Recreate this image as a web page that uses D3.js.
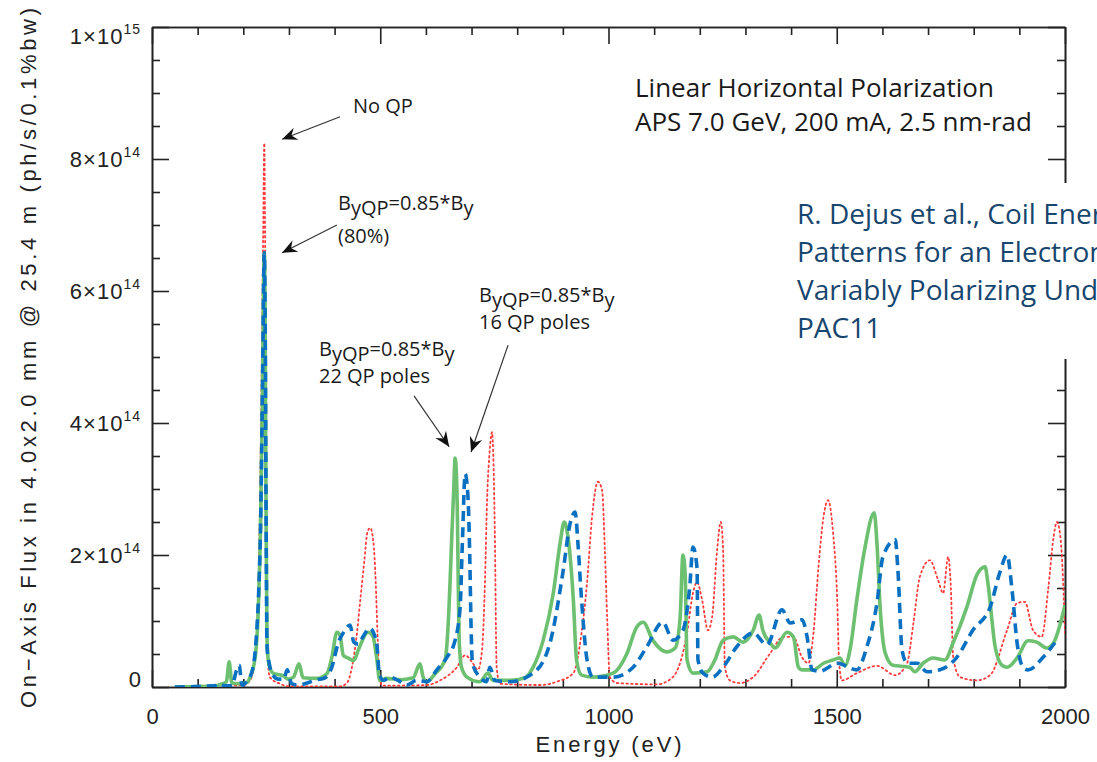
<!DOCTYPE html>
<html>
<head>
<meta charset="utf-8">
<script src="https://cdn.jsdelivr.net/npm/d3@7"></script>
<style>
  html, body { margin: 0; padding: 0; background: #fff; }
  svg { display: block; }
  .ax text { font-family: "Liberation Sans", Arial, sans-serif; fill: #222; }
  .note { font-family: "Open Sans", sans-serif; fill: #1a1a1a; }
</style>
</head>
<body>
<svg width="1097" height="762"></svg>
<script>
// flux values are in units of 1e14 ph/s/0.1%bw
const noQpE = [160, 200, 215, 226, 233, 238, 243, 246, 248, 250, 253, 258, 280, 302, 412, 427, 438, 449, 456, 465, 472, 478, 485, 490, 494, 498, 505,
  602, 631, 668, 686, 701, 714, 723, 729, 734, 740, 745, 748, 751, 755, 762, 850, 887, 923, 941, 953, 964, 977, 986, 992, 997, 1003, 1019,
  1106, 1141, 1172, 1185, 1194, 1205, 1218, 1227, 1238, 1246, 1251, 1255, 1266, 1288, 1317, 1354, 1383, 1405, 1424, 1438, 1449, 1460, 1471,
  1481, 1492, 1501, 1505, 1511, 1544, 1588, 1628, 1654, 1668, 1682, 1704, 1722, 1733, 1744, 1750, 1755, 1770, 1807, 1836, 1873, 1895, 1912,
  1930, 1949, 1963, 1975, 1982, 1989, 1996, 2000];
const noQpF = [0.02, 0.03, 0.1, 0.5, 1.5, 3.5, 6.5, 8.24, 6.5, 3.0, 0.5, 0.15, 0.05, 0.01, 0.01, 0.06, 0.3, 0.82, 1.3, 1.9, 2.35, 2.41, 2.2, 1.6, 0.8, 0.15, 0.02,
  0.03, 0.1, 0.3, 0.48, 0.38, 0.26, 0.56, 1.5, 2.83, 3.6, 3.86, 3.4, 2.33, 0.3, 0.05, 0.03, 0.08, 0.21, 0.82, 1.58, 2.58, 3.11, 2.98, 2.08, 1.06, 0.15, 0.06,
  0.04, 0.15, 0.82, 1.42, 1.59, 1.32, 0.86, 1.06, 2.08, 2.5, 2.08, 0.3, 0.1, 0.06, 0.15, 0.51, 0.76, 0.76, 0.45, 0.36, 0.82, 1.82, 2.58,
  2.83, 2.33, 1.32, 0.4, 0.1, 0.21, 0.32, 0.18, 0.36, 0.97, 1.67, 1.92, 1.62, 1.42, 1.97, 1.5, 0.45, 0.15, 0.1, 0.18, 0.86, 1.27, 1.29,
  0.86, 0.76, 1.47, 2.27, 2.5, 2.33, 1.58, 0.82];

const qp16E = [50, 138, 145, 160, 175, 185, 191, 197, 208, 219, 228, 234, 238, 242, 246, 248, 250, 252, 257, 263, 276, 289, 296, 306, 320,
  361, 379, 394, 408, 419, 434, 442, 452, 462, 477, 492, 498, 507, 521, 539, 558, 580, 602, 624, 646, 664, 675, 680, 686, 692, 696, 699, 702,
  718, 733, 740, 751, 784, 835, 872, 900, 916, 927, 933, 941, 953, 966, 1010, 1054, 1084, 1119, 1141, 1163, 1178, 1185, 1194, 1196, 1207,
  1227, 1251, 1281, 1317, 1347, 1380, 1398, 1424, 1435, 1446, 1463, 1501, 1544, 1566, 1588, 1601, 1628, 1634, 1643, 1654, 1676, 1698,
  1726, 1763, 1798, 1836, 1857, 1873, 1884, 1895, 1908, 1919, 1952, 1978];
const qp16F = [0, 0.02, 0.05, 0.02, 0.02, 0.25, 0.33, 0.03, 0.09, 0.23, 0.71, 1.5, 2.5, 4.5, 6.58, 5.4, 2.5, 0.6, 0.35, 0.2, 0.12, 0.12, 0.26, 0.05, 0.03,
  0.11, 0.14, 0.3, 0.67, 0.82, 0.94, 0.68, 0.65, 0.76, 0.89, 0.67, 0.2, 0.1, 0.15, 0.1, 0.03, 0.1, 0.08, 0.26, 0.45, 0.71, 1.21, 2.2, 3.23, 2.9, 2.0, 0.9, 0.36,
  0.15, 0.08, 0.3, 0.1, 0.08, 0.21, 0.67, 1.73, 2.48, 2.65, 2.18, 1.32, 0.41, 0.15, 0.15, 0.3, 0.61, 0.98, 0.71, 0.86, 1.52, 2.12, 1.8, 0.41, 0.21,
  0.15, 0.3, 0.61, 0.82, 0.64, 1.17, 0.97, 1.02, 0.76, 0.26, 0.24, 0.36, 0.26, 0.61, 1.27, 1.97, 2.23, 1.77, 0.56, 0.36, 0.36, 0.23,
  0.26, 0.45, 0.86, 1.21, 1.73, 2.0, 1.47, 0.67, 0.3, 0.26, 0.45, 0.67];

const qp22E = [50, 140, 150, 163, 169, 175, 190, 208, 215, 226, 233, 238, 242, 246, 248, 250, 252, 256, 265, 287, 298, 310, 322, 331, 361,
  383, 394, 405, 412, 419, 429, 442, 452, 473, 484, 492, 499, 514, 543, 572, 587, 594, 602, 620, 642, 648, 653, 657, 661, 664, 667, 669, 671,
  673, 678, 690, 718, 736, 747, 784, 817, 835, 857, 879, 894, 903, 912, 923, 930, 941, 966, 1010, 1040, 1062, 1076, 1097, 1128, 1146, 1157,
  1163, 1168, 1172, 1185, 1216, 1233, 1251, 1273, 1295, 1317, 1330, 1338, 1354, 1365, 1391, 1405, 1416, 1424, 1449, 1471, 1492, 1507, 1518,
  1529, 1544, 1562, 1582, 1588, 1595, 1606, 1623, 1660, 1671, 1689, 1711, 1737, 1755, 1785, 1807, 1825, 1831, 1847, 1862, 1873, 1895, 1919,
  1938, 1960, 1975, 2000];
const qp22F = [0, 0.02, 0.04, 0.08, 0.38, 0.06, 0.05, 0.07, 0.15, 0.45, 1.2, 2.5, 4.5, 6.58, 5.4, 2.5, 0.7, 0.35, 0.21, 0.17, 0.12, 0.15, 0.35, 0.14, 0.13,
  0.2, 0.45, 0.83, 0.78, 0.48, 0.44, 0.4, 0.56, 0.83, 0.77, 0.45, 0.1, 0.13, 0.11, 0.14, 0.35, 0.15, 0.08, 0.2, 0.41, 0.85, 1.6, 2.33, 3.0, 3.47, 3.2, 2.6, 1.5,
  0.7, 0.3, 0.15, 0.08, 0.21, 0.1, 0.1, 0.14, 0.3, 0.71, 1.42, 2.18, 2.5, 2.23, 1.32, 0.41, 0.18, 0.15, 0.21, 0.5, 0.91, 0.98, 0.71, 0.53, 0.59, 1.06,
  2.0, 1.7, 0.41, 0.21, 0.23, 0.41, 0.71, 0.76, 0.68, 0.86, 1.09, 0.86, 0.67, 0.59, 0.83, 0.76, 0.3, 0.26, 0.26, 0.36, 0.41, 0.44, 0.32,
  0.56, 1.32, 2.12, 2.64, 2.18, 1.21, 0.52, 0.33, 0.3, 0.23, 0.36, 0.44, 0.41, 0.67, 1.21, 1.7, 1.82, 1.58, 0.61, 0.33, 0.3, 0.44, 0.7,
  0.68, 0.59, 0.67, 1.24];

const xTicks = [0, 500, 1000, 1500, 2000];
const yTicks = [0, 2, 4, 6, 8, 10];
const yTickMant = ["0", "2", "4", "6", "8", "1"];
const yTickExp = ["", "14", "14", "14", "14", "15"];

const svg = d3.select("svg");
const L = 152, R = 1065, T = 27, B = 687;
const x = d3.scaleLinear().domain([0, 2000]).range([L, R]);
const y = d3.scaleLinear().domain([0, 10]).range([B, T]);

const xMinor = d3.range(0, 2001, 100).filter(v => v % 500 !== 0);
const yMinor = d3.range(0, 10.01, 0.5).filter(v => v % 2 !== 0);

// axes: ticks point into the plot
function drawAxes() {
  const g = svg.append("g").attr("class", "ax");
  const axB = g.append("g").attr("transform", `translate(0,${B})`)
    .call(d3.axisBottom(x).tickValues(xTicks).tickSize(-17).tickSizeOuter(0).tickPadding(21).tickFormat(d => d));
  g.append("g").attr("transform", `translate(0,${B})`)
    .call(d3.axisBottom(x).tickValues(xMinor).tickSize(-8).tickSizeOuter(0).tickFormat(""));
  g.append("g").attr("transform", `translate(0,${T})`)
    .call(d3.axisTop(x).tickValues(xTicks).tickSize(-17).tickSizeOuter(0).tickFormat(""));
  g.append("g").attr("transform", `translate(0,${T})`)
    .call(d3.axisTop(x).tickValues(xMinor).tickSize(-8).tickSizeOuter(0).tickFormat(""));
  g.append("g").attr("transform", `translate(${L},0)`)
    .call(d3.axisLeft(y).tickValues(yTicks).tickSize(-17).tickSizeOuter(0).tickFormat(""));
  g.append("g").attr("transform", `translate(${L},0)`)
    .call(d3.axisLeft(y).tickValues(yMinor).tickSize(-8).tickSizeOuter(0).tickFormat(""));
  g.append("g").attr("transform", `translate(${R},0)`)
    .call(d3.axisRight(y).tickValues(yTicks).tickSize(-17).tickSizeOuter(0).tickFormat(""));
  g.append("g").attr("transform", `translate(${R},0)`)
    .call(d3.axisRight(y).tickValues(yMinor).tickSize(-8).tickSizeOuter(0).tickFormat(""));
  g.selectAll("path.domain, line").attr("stroke", "#222").attr("stroke-width", 1.6);
  axB.selectAll("text").attr("font-size", 22);

  // y tick labels with exponents
  const lab = g.append("g").attr("font-size", 22).attr("text-anchor", "end");
  yTicks.forEach((v, i) => {
    let by = y(v) + 8;
    if (i === 0) by = y(v);
    if (i === yTicks.length - 1) by = y(v) + 17;
    const t = lab.append("text").attr("x", 141).attr("y", by).attr("letter-spacing", 1);
    if (yTickExp[i]) {
      t.append("tspan").text(yTickMant[i] + "\u00d710");
      t.append("tspan").attr("font-size", 14).attr("dy", -10).text(yTickExp[i]);
    } else {
      t.attr("x", 142).text(yTickMant[i]);
    }
  });

  g.append("text").attr("x", x(1000)).attr("y", 752).attr("text-anchor", "middle")
    .attr("font-size", 22).attr("textLength", 146).attr("lengthAdjust", "spacing")
    .text("Energy (eV)");
  g.append("text").attr("transform", `translate(36,${(T + B) / 2 + 1}) rotate(-90)`)
    .attr("text-anchor", "middle").attr("font-size", 22)
    .attr("textLength", 700).attr("lengthAdjust", "spacing")
    .text("On\u2212Axis Flux in 4.0x2.0 mm @ 25.4 m (ph/s/0.1%bw)");
}
drawAxes();

svg.append("clipPath").attr("id", "plot")
  .append("rect").attr("x", L).attr("y", T - 2).attr("width", R - L).attr("height", B - T + 2);

const line = d3.line().x(d => x(d[0])).y(d => y(d[1])).curve(d3.curveMonotoneX);
const curves = svg.append("g").attr("clip-path", "url(#plot)").attr("fill", "none");

curves.append("path").datum(d3.zip(noQpE, noQpF)).attr("d", line)
  .attr("stroke", "#ff3b3b").attr("stroke-width", 1.8)
  .attr("stroke-dasharray", "1.6,3.2").attr("stroke-linecap", "round");
curves.append("path").datum(d3.zip(qp22E, qp22F)).attr("d", line)
  .attr("stroke", "#6cc070").attr("stroke-width", 3.6).attr("stroke-linejoin", "round");
curves.append("path").datum(d3.zip(qp16E, qp16F)).attr("d", line)
  .attr("stroke", "#0a70c2").attr("stroke-width", 3.6)
  .attr("stroke-dasharray", "10,6");

// white box behind the citation text (it runs off the right edge, as in the source slide)
svg.append("rect").attr("x", 790).attr("y", 183).attr("width", 307).attr("height", 176).attr("fill", "#fff");

const cite = ["R. Dejus et al., Coil Ener", "Patterns for an Electron", "Variably Polarizing Und", "PAC11"];
svg.append("g").selectAll("text").data(cite).join("text")
  .attr("x", 797).attr("y", (d, i) => 224 + i * 38)
  .attr("font-family", "'Open Sans', sans-serif").attr("font-size", 28).attr("fill", "#17466f")
  .text(d => d);

// annotations
svg.append("defs").append("marker").attr("id", "head")
  .attr("viewBox", "-16 -8 18 16").attr("refX", 0).attr("refY", 0)
  .attr("markerWidth", 18).attr("markerHeight", 16).attr("markerUnits", "userSpaceOnUse")
  .attr("orient", "auto")
  .append("path").attr("d", "M0,0 L-15,-6.5 L-10,0 L-15,6.5 Z").attr("fill", "#111");

const arrows = [
  [[412, 8.64], [285, 8.3]],
  [[405, 7.0], [285, 6.58]],
  [[574, 4.41], [651, 3.64]],
  [[780, 5.18], [699, 3.56]]
];
svg.append("g").selectAll("line").data(arrows).join("line")
  .attr("x1", d => x(d[0][0])).attr("y1", d => y(d[0][1]))
  .attr("x2", d => x(d[1][0])).attr("y2", d => y(d[1][1]))
  .attr("stroke", "#333").attr("stroke-width", 1.2).attr("marker-end", "url(#head)");

const notes = svg.append("g").attr("class", "note").attr("font-size", 20);
notes.append("text").attr("x", 353).attr("y", 113).text("No QP");

function bqp(gx, gy) {
  const t = notes.append("text").attr("x", gx).attr("y", gy);
  t.append("tspan").text("B");
  t.append("tspan").attr("dy", 5).text("yQP");
  t.append("tspan").attr("dy", -5).text("=0.85*B");
  t.append("tspan").attr("dy", 5).text("y");
}
bqp(338, 210);
notes.append("text").attr("x", 338).attr("y", 243).text("(80%)");
bqp(479, 302);
notes.append("text").attr("x", 479).attr("y", 329).text("16 QP poles");
bqp(319, 356);
notes.append("text").attr("x", 319).attr("y", 383).text("22 QP poles");

notes.append("text").attr("x", 635).attr("y", 97).attr("font-size", 26).text("Linear Horizontal Polarization");
notes.append("text").attr("x", 635).attr("y", 131).attr("font-size", 26).text("APS 7.0 GeV, 200 mA, 2.5 nm-rad");
</script>
</body>
</html>
